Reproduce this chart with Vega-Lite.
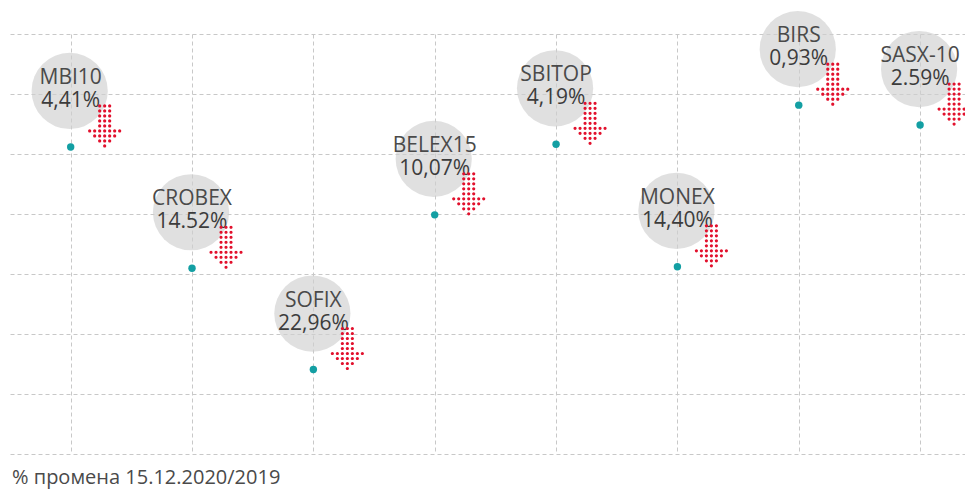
{
  "$schema": "https://vega.github.io/schema/vega-lite/v6.json",
  "width": 955,
  "height": 420,
  "autosize": {"type": "none"},
  "padding": {"left": 10, "top": 34, "right": 0, "bottom": 35},
  "background": "white",
  "config": {"view": {"stroke": null}, "font": "Open Sans"},
  "title": {
    "text": "% промена 15.12.2020/2019",
    "orient": "bottom",
    "anchor": "start",
    "baseline": "alphabetic",
    "offset": 30,
    "dx": 2,
    "fontSize": 20,
    "fontWeight": "normal",
    "color": "#4a4a4a",
    "font": "Open Sans"
  },
  "data": {
    "values": [
      {"i": 0, "name": "MBI10", "label": "4,41%", "change": -4.41},
      {"i": 1, "name": "CROBEX", "label": "14.52%", "change": -14.52},
      {"i": 2, "name": "SOFIX", "label": "22,96%", "change": -22.96},
      {"i": 3, "name": "BELEX15", "label": "10,07%", "change": -10.07},
      {"i": 4, "name": "SBITOP", "label": "4,19%", "change": -4.19},
      {"i": 5, "name": "MONEX", "label": "14,40%", "change": -14.40},
      {"i": 6, "name": "BIRS", "label": "0,93%", "change": -0.93},
      {"i": 7, "name": "SASX-10", "label": "2.59%", "change": -2.59}
    ]
  },
  "encoding": {
    "x": {
      "field": "i",
      "type": "quantitative",
      "scale": {"domain": [-0.5, 7.37], "nice": false, "zero": false},
      "axis": {
        "values": [0, 1, 2, 3, 4, 5, 6, 7],
        "grid": true,
        "gridDash": [4, 3],
        "gridColor": "#c8c8c8",
        "gridWidth": 1,
        "labels": false,
        "ticks": false,
        "domain": false,
        "title": null
      }
    },
    "y": {
      "field": "change",
      "type": "quantitative",
      "scale": {"domain": [-30, 5], "nice": false, "zero": false},
      "axis": {
        "values": [-30, -25, -20, -15, -10, -5, 0, 5],
        "grid": true,
        "gridDash": [4, 3],
        "gridColor": "#c8c8c8",
        "gridWidth": 1,
        "labels": false,
        "ticks": false,
        "domain": false,
        "title": null
      }
    }
  },
  "layer": [
    {
      "mark": {"type": "point", "shape": "circle", "filled": true, "size": 5809, "color": "#cfcfcf", "opacity": 0.65, "strokeWidth": 0, "yOffset": -56, "xOffset": -1}
    },
    {
      "mark": {"type": "text", "dy": -63, "baseline": "alphabetic", "align": "center", "fontSize": 21, "color": "#4a4a4a", "font": "Open Sans"},
      "encoding": {"text": {"field": "name"}}
    },
    {
      "mark": {"type": "text", "dy": -40, "baseline": "alphabetic", "align": "center", "fontSize": 21, "color": "#3c3c3c", "font": "Open Sans"},
      "encoding": {"text": {"field": "label"}}
    },
    {
      "mark": {
        "type": "point",
        "shape": "M-0.33,-1a0.08,0.08,0,1,0,0.16,0a0.08,0.08,0,1,0,-0.16,0M-0.08,-1a0.08,0.08,0,1,0,0.16,0a0.08,0.08,0,1,0,-0.16,0M0.17,-1a0.08,0.08,0,1,0,0.16,0a0.08,0.08,0,1,0,-0.16,0M-0.33,-0.75a0.08,0.08,0,1,0,0.16,0a0.08,0.08,0,1,0,-0.16,0M-0.08,-0.75a0.08,0.08,0,1,0,0.16,0a0.08,0.08,0,1,0,-0.16,0M0.17,-0.75a0.08,0.08,0,1,0,0.16,0a0.08,0.08,0,1,0,-0.16,0M-0.33,-0.5a0.08,0.08,0,1,0,0.16,0a0.08,0.08,0,1,0,-0.16,0M-0.08,-0.5a0.08,0.08,0,1,0,0.16,0a0.08,0.08,0,1,0,-0.16,0M0.17,-0.5a0.08,0.08,0,1,0,0.16,0a0.08,0.08,0,1,0,-0.16,0M-0.33,-0.25a0.08,0.08,0,1,0,0.16,0a0.08,0.08,0,1,0,-0.16,0M-0.08,-0.25a0.08,0.08,0,1,0,0.16,0a0.08,0.08,0,1,0,-0.16,0M0.17,-0.25a0.08,0.08,0,1,0,0.16,0a0.08,0.08,0,1,0,-0.16,0M-0.33,0a0.08,0.08,0,1,0,0.16,0a0.08,0.08,0,1,0,-0.16,0M-0.08,0a0.08,0.08,0,1,0,0.16,0a0.08,0.08,0,1,0,-0.16,0M0.17,0a0.08,0.08,0,1,0,0.16,0a0.08,0.08,0,1,0,-0.16,0M-0.83,0.25a0.08,0.08,0,1,0,0.16,0a0.08,0.08,0,1,0,-0.16,0M-0.58,0.25a0.08,0.08,0,1,0,0.16,0a0.08,0.08,0,1,0,-0.16,0M-0.33,0.25a0.08,0.08,0,1,0,0.16,0a0.08,0.08,0,1,0,-0.16,0M-0.08,0.25a0.08,0.08,0,1,0,0.16,0a0.08,0.08,0,1,0,-0.16,0M0.17,0.25a0.08,0.08,0,1,0,0.16,0a0.08,0.08,0,1,0,-0.16,0M0.42,0.25a0.08,0.08,0,1,0,0.16,0a0.08,0.08,0,1,0,-0.16,0M0.67,0.25a0.08,0.08,0,1,0,0.16,0a0.08,0.08,0,1,0,-0.16,0M-0.58,0.5a0.08,0.08,0,1,0,0.16,0a0.08,0.08,0,1,0,-0.16,0M-0.33,0.5a0.08,0.08,0,1,0,0.16,0a0.08,0.08,0,1,0,-0.16,0M-0.08,0.5a0.08,0.08,0,1,0,0.16,0a0.08,0.08,0,1,0,-0.16,0M0.17,0.5a0.08,0.08,0,1,0,0.16,0a0.08,0.08,0,1,0,-0.16,0M0.42,0.5a0.08,0.08,0,1,0,0.16,0a0.08,0.08,0,1,0,-0.16,0M-0.33,0.75a0.08,0.08,0,1,0,0.16,0a0.08,0.08,0,1,0,-0.16,0M-0.08,0.75a0.08,0.08,0,1,0,0.16,0a0.08,0.08,0,1,0,-0.16,0M0.17,0.75a0.08,0.08,0,1,0,0.16,0a0.08,0.08,0,1,0,-0.16,0M-0.08,1a0.08,0.08,0,1,0,0.16,0a0.08,0.08,0,1,0,-0.16,0",
        "filled": true,
        "size": 1600,
        "color": "#e2112d",
        "opacity": 1,
        "strokeWidth": 0,
        "xOffset": 34,
        "yOffset": -21
      }
    },
    {
      "mark": {"type": "point", "shape": "circle", "filled": true, "size": 55, "color": "#139fa3", "opacity": 1, "strokeWidth": 0}
    }
  ]
}
